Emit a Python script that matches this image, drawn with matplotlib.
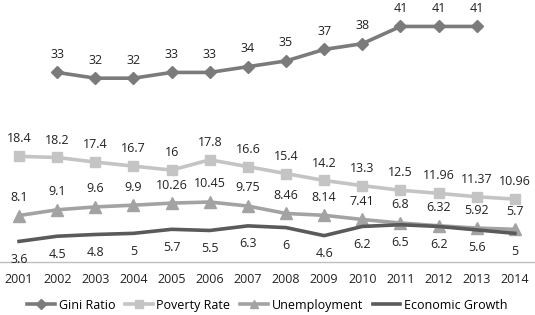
import numpy as np
import matplotlib
matplotlib.use("Agg")
from matplotlib import pyplot as plt

# data
years = ['2001', '2002', '2003', '2004', '2005', '2006', '2007',
         '2008', '2009', '2010', '2011', '2012', '2013', '2014']
gini = [33, 32, 32, 33, 33, 34, 35, 37, 38, 41, 41, 41]   # 2002-2013
poverty = [18.4, 18.2, 17.4, 16.7, 16, 17.8, 16.6, 15.4, 14.2, 13.3,
           12.5, 11.96, 11.37, 10.96]
unemployment = [8.1, 9.1, 9.6, 9.9, 10.26, 10.45, 9.75, 8.46, 8.14, 7.41,
                6.8, 6.32, 5.92, 5.7]
growth = [3.6, 4.5, 4.8, 5, 5.7, 5.5, 6.3, 6, 4.6, 6.2, 6.5, 6.2, 5.6, 5]

plt.rcParams['font.family'] = ['Open Sans', 'DejaVu Sans']

fig = plt.figure(figsize=(5.35, 3.15), dpi=100)
ax = fig.add_axes([0, 0.168, 0.998, 0.821])

x = np.arange(len(years))
xg = x[1:1 + len(gini)]

c_gini = '#7b7b7b'
c_pov = '#c4c4c4'
c_unemp = '#a3a3a3'
c_grow = '#5a5a5a'

ax.plot(xg, gini, color=c_gini, lw=2.6, marker='D', ms=6.5, label='Gini Ratio')
ax.plot(x, poverty, color=c_pov, lw=2.6, marker='s', ms=7.5, label='Poverty Rate')
ax.plot(x, unemployment, color=c_unemp, lw=2.6, marker='^', ms=8, label='Unemployment')
ax.plot(x, growth, color=c_grow, lw=2.6, label='Economic Growth')

fs = 9
tc = '#222222'
for xi, v in zip(xg, gini):
    ax.annotate(f'{v:g}', (xi, v), xytext=(0, 13), textcoords='offset points',
                ha='center', va='center', fontsize=fs, color=tc)
for xi, v in zip(x, poverty):
    ax.annotate(f'{v:g}', (xi, v), xytext=(0, 12.5), textcoords='offset points',
                ha='center', va='center', fontsize=fs, color=tc)
for xi, v in zip(x, unemployment):
    ax.annotate(f'{v:g}', (xi, v), xytext=(0, 13), textcoords='offset points',
                ha='center', va='center', fontsize=fs, color=tc)
for xi, v in zip(x, growth):
    ax.annotate(f'{v:g}', (xi, v), xytext=(0, -13), textcoords='offset points',
                ha='center', va='center', fontsize=fs, color=tc)

ax.set_xlim(-0.5, len(years) - 0.5)
ax.set_ylim(0, 45)
ax.set_xticks(x)
ax.set_xticklabels(years, fontsize=fs, color=tc)
ax.tick_params(axis='x', length=0, pad=8)
ax.set_yticks([])
for s in ['top', 'right', 'left']:
    ax.spines[s].set_visible(False)
ax.spines['bottom'].set_color('#bfbfbf')
ax.spines['bottom'].set_linewidth(1)

fig.legend(loc='lower center', bbox_to_anchor=(0.5, -0.025), ncol=4, frameon=False,
           fontsize=fs, handlelength=2.2, columnspacing=0.8, handletextpad=0.3,
           markerscale=0.8)

plt.savefig('out.png', dpi=100)
